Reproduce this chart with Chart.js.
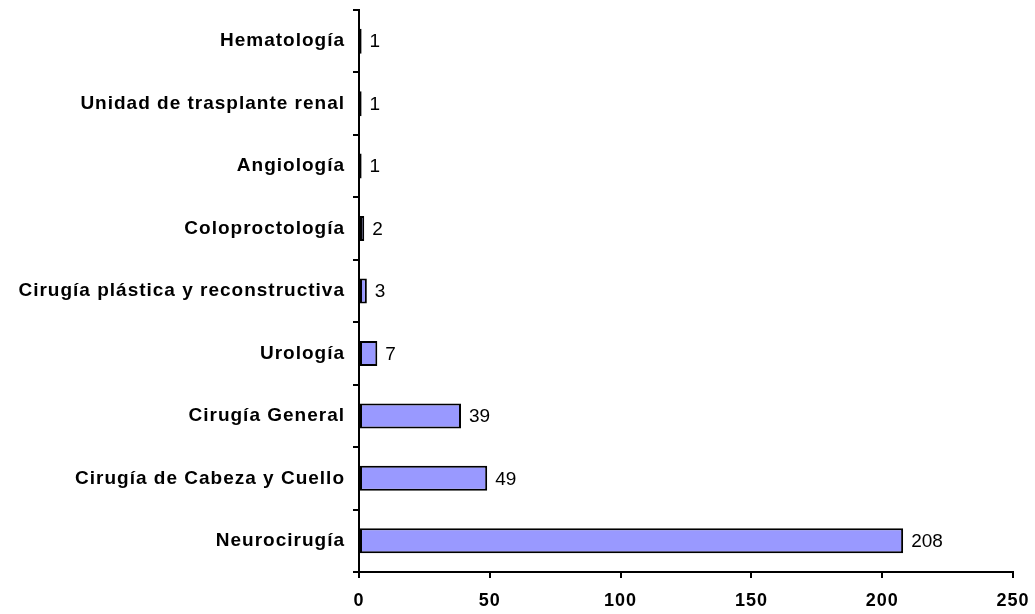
<!DOCTYPE html>
<html>
<head>
<meta charset="utf-8">
<script src="https://cdn.jsdelivr.net/npm/chart.js@4/dist/chart.umd.min.js"></script>
<style>
  html, body { margin: 0; padding: 0; background: #fff; }
  #wrap { width: 1035px; height: 614px; }
</style>
</head>
<body>
<div id="wrap"><canvas id="c" width="1035" height="614"></canvas></div>
<script>
// Interconsultas por servicio
const servicios = [
  'Hematología',
  'Unidad de trasplante renal',
  'Angiología',
  'Coloproctología',
  'Cirugía plástica y reconstructiva',
  'Urología',
  'Cirugía General',
  'Cirugía de Cabeza y Cuello',
  'Neurocirugía'
];
const casos = [1, 1, 1, 2, 3, 7, 39, 49, 208];
const ejeMin = 0;
const ejeMax = 250;
const ejePaso = 50;

const FONT = '"Liberation Sans", Arial, sans-serif';

// Axis labels in this style are slightly spaced out
const spacing = {
  id: 'spacing',
  beforeDraw(chart) { chart.ctx.letterSpacing = '1px'; }
};

// Value written to the right of every bar
const valores = {
  id: 'valores',
  afterDatasetsDraw(chart) {
    const ctx = chart.ctx;
    const meta = chart.getDatasetMeta(0);
    ctx.save();
    ctx.letterSpacing = '0px';
    ctx.font = '19px ' + FONT;
    ctx.fillStyle = '#000';
    ctx.textAlign = 'left';
    ctx.textBaseline = 'middle';
    meta.data.forEach((bar, i) => {
      ctx.fillText(String(casos[i]), bar.x + 8, bar.y + 1);
    });
    ctx.restore();
  }
};

new Chart(document.getElementById('c'), {
  type: 'bar',
  data: {
    labels: servicios,
    datasets: [{
      data: casos,
      backgroundColor: '#9999FF',
      borderColor: '#000',
      borderWidth: 2,
      borderSkipped: false,
      barPercentage: 0.4,
      categoryPercentage: 1
    }]
  },
  options: {
    indexAxis: 'y',
    responsive: false,
    animation: false,
    layout: { padding: { top: 10, right: 22, left: 0, bottom: 0 } },
    plugins: { legend: { display: false }, tooltip: { enabled: false } },
    scales: {
      x: {
        min: ejeMin,
        max: ejeMax,
        afterFit(s) { s.height = 42; s.paddingLeft = 0; s.paddingRight = 0; },
        ticks: {
          stepSize: ejePaso,
          color: '#000',
          padding: 12,
          maxRotation: 0,
          font: { family: FONT, size: 18, weight: 'bold' }
        },
        grid: { drawOnChartArea: false, color: '#000', lineWidth: 2, tickLength: 6 },
        border: { color: '#000', width: 2 }
      },
      y: {
        afterFit(s) { s.width = 359; s.paddingTop = 0; s.paddingBottom = 0; },
        ticks: {
          color: '#000',
          padding: 8,
          autoSkip: false,
          font: { family: FONT, size: 19, weight: 'bold' }
        },
        grid: { drawOnChartArea: false, offset: true, color: '#000', lineWidth: 2, tickLength: 6 },
        border: { color: '#000', width: 2 }
      }
    }
  },
  plugins: [spacing, valores]
});
</script>
</body>
</html>
